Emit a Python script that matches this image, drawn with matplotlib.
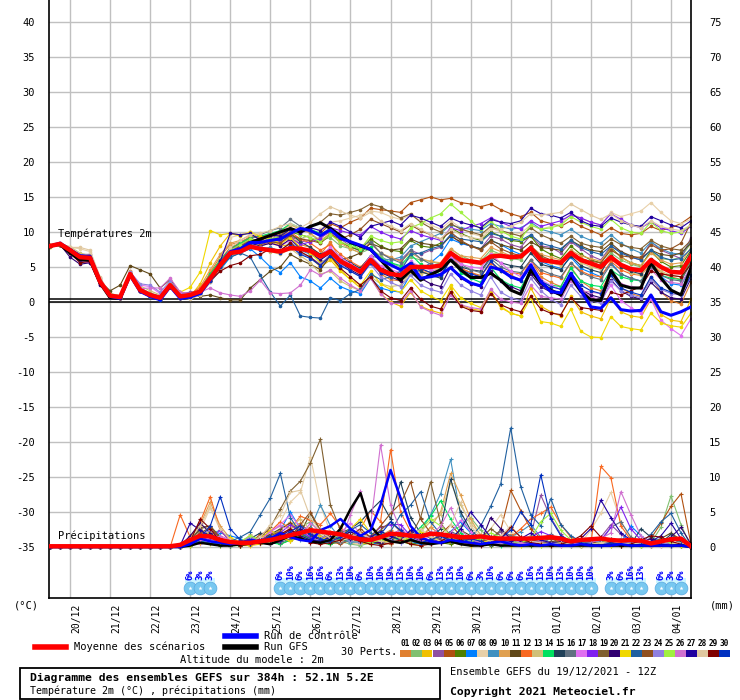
#GEFS ensemble diagram (meteociel style): temperature 2m and precipitation, 30 members
import matplotlib
matplotlib.use('Agg')
import matplotlib.pyplot as plt
import matplotlib.transforms as mtransforms
from matplotlib.patches import Rectangle
from matplotlib.lines import Line2D
import numpy as np

plt.rcParams['font.family'] = ['DejaVu Sans Mono', 'DejaVu Sans']

#6-hourly steps from 19/12/2021 12Z (step 0) to +384h (step 64)
dates = ['20/12', '21/12', '22/12', '23/12', '24/12', '25/12', '26/12', '27/12',
         '28/12', '29/12', '30/12', '31/12', '01/01', '02/01', '03/01', '04/01']

pert_colors = ['#e08030', '#80c070', '#f0c000', '#9050a0', '#b05010', '#508000',
               '#0080ff', '#e8d0a8', '#4090c0', '#e0a050', '#604818', '#f86820',
               '#d0c078', '#00e060', '#204058', '#607080', '#e070f0', '#8020f0',
               '#806030', '#300070', '#f0d800', '#2060a0', '#905020', '#9080e0',
               '#a0f040', '#d070d0', '#2000a0', '#e0c8a0', '#800000', '#0030c0']

#temperature 2m (C)
mean_temp = [8.0, 8.3, 7.4, 6.4, 6.3, 2.9, 0.9, 0.7, 4.0, 1.7, 1.0, 0.6, 2.4, 0.8, 1.0, 1.5,
             3.4, 5.3, 7.0, 7.2, 7.9, 7.6, 7.4, 7.2, 7.7, 7.6, 7.3, 6.5, 7.2, 5.8, 5.1, 4.3,
             6.0, 4.6, 4.0, 3.8, 5.0, 5.0, 5.0, 5.2, 7.0, 6.0, 5.8, 5.6, 6.5, 6.6, 6.4, 6.5,
             7.7, 6.0, 5.8, 5.6, 7.0, 6.0, 5.5, 5.0, 6.4, 5.3, 4.7, 4.5, 6.0, 5.0, 4.3, 4.2, 6.5]
ctrl_temp = [8.0, 8.4, 7.5, 6.6, 6.5, 3.0, 0.8, 0.5, 3.8, 1.5, 0.8, 0.3, 2.2, 0.5, 0.7, 1.2,
             3.2, 5.4, 7.2, 7.6, 8.5, 8.5, 8.8, 9.0, 9.8, 10.5, 10.2, 9.5, 10.3, 9.1, 8.6, 8.1,
             7.5, 6.0, 5.3, 4.6, 5.5, 3.4, 3.6, 3.9, 4.9, 3.6, 2.7, 2.3, 5.0, 4.6, 3.6, 3.1,
             5.3, 2.9, 1.5, 1.3, 4.1, 1.7, -0.7, -0.9, 0.6, -1.1, -1.3, -1.2, 1.0, -1.4, -1.9, -1.4, -0.7]
gfs_temp = [8.0, 8.2, 7.0, 6.0, 6.0, 2.7, 0.6, 0.5, 3.9, 1.6, 0.9, 0.5, 2.3, 0.7, 0.9, 1.4,
            3.3, 5.2, 7.0, 7.5, 8.5, 9.0, 9.5, 10.0, 10.5, 10.0, 10.8, 11.3, 10.5, 9.5, 8.5, 8.0,
            7.5, 6.0, 4.5, 3.1, 4.5, 3.1, 3.9, 4.6, 6.0, 4.6, 3.5, 3.5, 4.1, 3.1, 1.7, 1.1,
            4.6, 2.7, 1.7, 1.0, 3.6, 1.5, 0.3, 0.2, 4.5, 2.4, 2.0, 2.0, 5.6, 3.4, 1.7, 1.0, 4.9]
pert_temp = [
    [8.1, 8.2, 7.2, 6.5, 6.0, 2.6, 0.8, 0.5, 4.2, 1.5, 0.8, 0.3, 2.2, 0.5, 0.8, 1.8,
     4.2, 6.5, 8.2, 8.6, 9.0, 8.4, 8.8, 8.2, 9.5, 8.2, 7.8, 6.8, 8.6, 6.0, 5.2, 4.2,
     6.3, 4.0, 3.2, 3.0, 5.2, 4.2, 4.0, 3.6, 6.8, 4.8, 4.2, 3.8, 5.6, 4.4, 3.8, 3.2,
     6.0, 3.6, 2.8, 2.2, 5.0, 3.0, 2.0, 1.6, 4.2, 2.0, 1.2, 0.8, 3.6, 1.4, 0.2, -0.3, 2.8],
    [8.0, 8.3, 7.5, 6.7, 6.6, 3.2, 1.2, 0.9, 4.1, 2.0, 1.3, 0.8, 2.6, 1.0, 1.1, 1.4,
     3.0, 5.0, 7.2, 8.0, 8.6, 8.0, 8.4, 8.8, 9.4, 9.0, 9.6, 8.8, 9.2, 8.0, 7.6, 7.0,
     7.6, 6.6, 5.6, 5.0, 6.4, 6.0, 5.8, 5.4, 7.6, 6.6, 6.0, 5.8, 7.4, 6.8, 6.2, 6.0,
     7.8, 6.4, 5.8, 5.4, 7.2, 6.2, 5.6, 5.2, 7.0, 6.0, 5.4, 5.0, 7.4, 6.2, 6.0, 6.4, 8.4],
    [7.9, 8.2, 7.3, 6.2, 6.0, 2.8, 0.8, 0.6, 3.8, 1.6, 0.9, 0.4, 2.2, 0.6, 0.8, 2.6,
     5.6, 8.0, 9.8, 9.6, 10.0, 9.0, 8.6, 8.0, 8.2, 7.0, 6.4, 5.0, 6.0, 4.4, 3.2, 2.0,
     3.6, 1.2, 0.0, -0.6, 1.4, -0.6, -1.2, -1.6, 2.0, -0.4, -1.0, -1.2, 1.6, -0.8, -1.6, -2.0,
     2.0, -0.6, -1.4, -2.0, 0.8, -1.4, -2.0, -2.4, 0.6, -1.4, -2.0, -2.2, 0.4, -1.8, -2.6, -2.8, 0.4],
    [8.0, 8.4, 7.6, 6.8, 6.8, 3.4, 1.0, 0.8, 4.4, 2.0, 1.2, 0.8, 2.8, 1.2, 1.4, 1.6,
     3.2, 5.0, 7.4, 8.6, 9.2, 9.4, 9.6, 9.0, 9.4, 8.6, 8.8, 9.2, 10.0, 9.0, 8.0, 7.2,
     8.4, 7.0, 6.2, 6.0, 7.4, 6.8, 7.4, 7.8, 9.6, 8.4, 8.0, 7.6, 9.4, 9.0, 8.2, 7.8,
     9.6, 8.0, 7.8, 7.0, 8.6, 7.6, 6.6, 6.0, 8.0, 7.2, 6.4, 6.0, 8.6, 7.4, 6.8, 6.2, 9.2],
    [8.0, 8.2, 7.4, 6.3, 6.2, 3.0, 1.0, 0.8, 4.2, 1.8, 1.1, 0.7, 2.4, 0.8, 1.2, 1.6,
     3.6, 5.6, 7.6, 8.4, 9.0, 8.8, 9.4, 9.6, 10.4, 10.0, 10.2, 9.8, 11.2, 10.6, 11.4, 12.0,
     13.4, 13.2, 13.0, 12.8, 14.2, 14.6, 15.0, 14.6, 14.8, 14.2, 14.0, 13.6, 14.0, 13.2, 12.6, 12.2,
     12.8, 11.6, 11.2, 10.8, 11.6, 10.8, 10.2, 9.6, 10.6, 9.8, 9.6, 9.8, 10.8, 10.2, 10.6, 11.2, 12.2],
    [8.1, 8.3, 7.3, 6.4, 6.4, 3.0, 0.9, 0.6, 3.8, 1.6, 0.9, 0.5, 2.2, 0.7, 0.9, 1.3,
     3.0, 4.8, 6.8, 7.8, 8.8, 8.4, 8.8, 9.2, 10.0, 9.6, 9.2, 8.4, 9.8, 8.6, 7.8, 7.4,
     9.0, 8.0, 7.4, 7.2, 8.8, 8.0, 7.8, 8.4, 10.6, 9.8, 9.2, 8.8, 10.0, 9.4, 8.8, 8.6,
     9.4, 7.6, 6.8, 6.2, 8.0, 6.8, 6.0, 5.6, 7.8, 6.4, 5.6, 5.2, 7.2, 5.8, 5.0, 5.2, 7.4],
    [8.0, 8.2, 7.4, 6.4, 6.2, 2.8, 0.8, 0.6, 3.8, 1.6, 0.8, 0.4, 2.2, 0.6, 0.8, 1.2,
     2.8, 4.6, 6.4, 7.0, 7.6, 6.4, 5.0, 4.2, 5.6, 3.6, 3.0, 2.0, 3.4, 2.2, 1.6, 1.2,
     3.4, 2.0, 1.6, 1.4, 4.0, 4.6, 5.6, 6.8, 9.0, 8.4, 8.0, 7.6, 8.8, 8.2, 7.4, 6.8,
     7.8, 5.8, 5.2, 4.8, 6.4, 4.8, 4.2, 3.6, 5.6, 4.0, 3.4, 3.0, 5.2, 3.6, 2.6, 2.4, 5.0],
    [8.0, 8.4, 7.8, 7.6, 7.2, 3.4, 1.2, 0.8, 4.0, 1.8, 1.0, 0.6, 2.4, 0.8, 1.0, 1.6,
     3.8, 6.2, 9.2, 9.6, 10.0, 9.4, 9.0, 8.6, 9.0, 8.8, 9.6, 10.4, 11.4, 11.6, 12.0, 12.4,
     13.0, 12.8, 12.2, 11.8, 12.4, 11.6, 11.0, 10.4, 11.6, 10.6, 9.8, 9.4, 10.6, 10.0, 9.6, 9.8,
     11.0, 10.4, 10.8, 11.2, 12.6, 12.0, 11.4, 11.0, 12.8, 12.2, 12.6, 13.0, 14.2, 12.8, 11.6, 11.2, 11.8],
    [8.0, 8.3, 7.4, 6.5, 6.3, 2.9, 0.8, 0.6, 3.9, 1.7, 0.9, 0.5, 2.3, 0.7, 0.9, 1.4,
     3.2, 5.2, 7.0, 7.8, 8.4, 7.6, 7.8, 7.2, 8.6, 7.4, 6.8, 6.0, 7.4, 6.2, 5.2, 4.8,
     6.6, 6.2, 6.0, 6.4, 8.0, 8.6, 9.2, 9.8, 11.0, 10.6, 10.4, 10.2, 11.2, 10.8, 10.4, 10.6,
     11.4, 10.4, 10.0, 9.6, 10.4, 9.4, 8.8, 8.4, 9.6, 8.4, 7.6, 7.0, 8.6, 7.6, 7.0, 6.8, 8.6],
    [8.1, 8.2, 7.4, 6.6, 6.4, 3.2, 1.0, 0.7, 4.4, 1.9, 1.1, 0.7, 2.5, 0.9, 1.0, 2.2,
     4.6, 6.8, 8.4, 8.8, 9.6, 9.0, 9.6, 10.2, 11.0, 10.4, 9.8, 8.8, 9.8, 8.4, 7.6, 7.0,
     8.6, 7.0, 6.4, 5.8, 7.0, 6.2, 5.8, 5.6, 7.6, 6.6, 6.4, 6.2, 7.8, 7.2, 6.6, 6.4,
     8.0, 6.8, 6.4, 6.0, 7.4, 6.6, 6.2, 5.8, 7.6, 6.4, 5.6, 5.2, 7.0, 6.0, 5.4, 5.6, 7.8],
    [8.0, 8.2, 7.2, 6.2, 6.0, 3.0, 1.6, 2.4, 5.2, 4.6, 4.0, 2.0, 3.2, 1.4, 1.0, 0.8,
     1.0, 0.6, 0.3, 0.3, 2.0, 3.2, 4.4, 5.0, 6.8, 6.0, 5.4, 4.6, 6.6, 6.0, 6.4, 7.0,
     8.4, 7.8, 7.4, 7.6, 9.0, 8.4, 8.2, 8.0, 9.4, 8.6, 8.0, 7.6, 8.8, 8.2, 7.8, 7.4,
     8.6, 7.8, 7.6, 7.4, 8.8, 8.0, 7.4, 7.2, 8.4, 7.2, 6.6, 6.2, 7.4, 6.8, 6.6, 7.0, 8.4],
    [8.0, 8.3, 7.4, 6.4, 6.3, 3.0, 1.0, 0.8, 4.0, 1.7, 1.0, 0.6, 2.4, 0.8, 1.2, 2.0,
     4.0, 6.0, 7.8, 8.4, 9.4, 9.2, 9.8, 9.4, 10.0, 9.0, 8.4, 7.4, 8.2, 6.8, 5.8, 5.0,
     6.4, 4.8, 4.2, 3.8, 5.4, 4.6, 4.2, 3.8, 6.2, 4.8, 4.2, 3.6, 5.6, 4.6, 4.2, 4.0,
     6.0, 4.2, 3.8, 3.4, 5.6, 4.4, 3.8, 3.6, 5.8, 4.6, 4.0, 3.8, 5.4, 4.2, 3.6, 3.2, 5.6],
    [8.0, 8.3, 7.9, 7.0, 6.6, 3.2, 1.1, 0.9, 4.2, 2.3, 1.6, 1.0, 2.6, 1.0, 1.2, 1.5,
     3.2, 5.0, 6.6, 7.0, 7.8, 7.6, 7.2, 6.8, 7.6, 6.6, 5.6, 4.0, 4.4, 3.0, 2.2, 1.6,
     3.6, 2.6, 2.2, 2.4, 4.2, 4.0, 4.4, 4.8, 6.6, 5.8, 5.6, 5.4, 7.0, 6.8, 6.6, 6.8,
     7.6, 6.0, 5.6, 5.2, 7.0, 5.6, 5.0, 4.6, 6.6, 5.0, 4.2, 3.8, 5.6, 4.4, 3.8, 3.6, 6.4],
    [8.0, 8.3, 7.4, 6.4, 6.3, 2.9, 0.9, 0.7, 4.1, 1.8, 1.0, 0.6, 2.5, 0.9, 1.0, 1.7,
     4.0, 6.0, 7.6, 8.4, 9.2, 9.4, 9.8, 10.2, 11.2, 10.6, 10.4, 9.8, 10.2, 9.2, 8.4, 7.4,
     7.8, 6.2, 5.6, 5.2, 6.8, 5.4, 4.6, 4.0, 6.4, 4.2, 3.4, 2.8, 5.0, 3.2, 2.4, 2.0,
     4.6, 2.8, 2.4, 2.2, 4.8, 3.0, 2.4, 2.2, 4.6, 3.6, 3.2, 3.0, 5.0, 3.8, 3.4, 3.2, 6.0],
    [8.0, 8.2, 7.3, 6.3, 6.2, 2.8, 0.8, 0.6, 3.9, 1.6, 0.9, 0.5, 2.3, 0.6, 0.8, 1.3,
     3.2, 5.4, 7.4, 8.2, 9.0, 8.6, 9.0, 8.8, 9.8, 8.6, 7.8, 6.8, 7.6, 6.4, 5.6, 4.8,
     6.6, 5.0, 4.2, 3.8, 5.6, 4.4, 3.8, 3.4, 6.2, 5.0, 4.6, 4.4, 6.4, 5.6, 5.2, 5.0,
     7.0, 5.4, 5.0, 4.6, 6.6, 5.2, 4.6, 4.2, 6.6, 5.0, 4.4, 4.0, 6.2, 5.0, 4.4, 4.4, 7.2],
    [8.0, 8.3, 7.4, 6.4, 6.4, 3.0, 0.9, 0.7, 4.0, 1.7, 1.0, 0.6, 2.4, 0.8, 1.1, 1.6,
     3.6, 5.8, 7.6, 8.2, 9.0, 9.6, 10.2, 10.6, 11.8, 10.8, 10.0, 9.6, 10.6, 9.4, 8.6, 8.0,
     8.6, 7.0, 6.2, 5.6, 7.4, 6.2, 5.4, 4.8, 6.8, 5.4, 4.6, 4.2, 6.2, 5.0, 4.4, 4.2,
     6.0, 4.6, 4.0, 3.6, 5.6, 4.2, 3.6, 3.2, 5.4, 4.0, 3.4, 3.0, 5.0, 3.8, 3.2, 3.0, 5.6],
    [8.0, 8.4, 7.0, 5.8, 5.6, 2.6, 0.8, 0.6, 4.2, 2.4, 2.2, 1.2, 2.6, 0.8, 1.0, 1.5,
     3.4, 5.4, 7.2, 7.8, 8.6, 8.2, 8.4, 8.0, 8.8, 7.8, 7.4, 6.6, 7.8, 6.4, 5.4, 4.6,
     6.6, 5.2, 4.6, 4.2, 5.8, 5.0, 4.6, 4.4, 6.4, 5.4, 5.0, 4.8, 6.8, 5.6, 4.4, 3.6,
     5.4, 3.2, 2.4, 1.8, 3.6, 1.6, 0.8, 0.2, 2.4, 0.2, -0.8, -1.6, 0.4, -2.6, -3.8, -4.8, -2.4],
    [8.0, 8.3, 7.2, 6.0, 5.8, 2.6, 0.7, 0.5, 3.8, 1.5, 0.8, 0.4, 2.2, 0.6, 0.8, 1.4,
     3.4, 5.6, 7.4, 8.0, 8.8, 8.6, 9.0, 8.6, 9.2, 8.2, 8.6, 9.0, 10.6, 10.2, 9.8, 9.6,
     10.8, 10.0, 9.4, 9.0, 10.2, 9.6, 9.2, 8.8, 10.6, 10.2, 10.8, 11.2, 12.0, 11.4, 10.8, 10.4,
     11.6, 10.8, 11.2, 11.6, 12.4, 12.0, 11.4, 11.0, 12.6, 11.8, 11.0, 10.6, 11.4, 10.6, 10.2, 9.8, 10.8],
    [8.0, 8.3, 7.4, 6.6, 6.5, 3.1, 1.0, 0.8, 4.1, 1.8, 1.1, 0.7, 2.5, 0.9, 1.0, 1.4,
     3.0, 4.8, 6.6, 7.6, 8.6, 8.4, 9.0, 9.4, 10.4, 10.0, 10.8, 11.4, 12.6, 12.4, 12.8, 13.2,
     14.0, 13.6, 12.8, 12.0, 12.6, 11.4, 10.6, 10.0, 11.2, 10.4, 10.0, 9.6, 10.8, 10.2, 9.8, 9.4,
     10.6, 9.6, 9.0, 8.4, 9.4, 8.4, 8.0, 7.8, 9.0, 8.2, 7.8, 7.6, 8.8, 8.0, 7.6, 7.4, 8.8],
    [8.0, 8.2, 6.4, 5.4, 5.6, 2.4, 0.9, 0.6, 3.8, 1.6, 0.8, 0.4, 2.2, 0.6, 0.9, 1.5,
     3.2, 5.2, 7.0, 7.6, 8.4, 8.0, 8.4, 8.0, 9.0, 7.6, 7.0, 6.0, 7.0, 5.6, 4.6, 3.8,
     5.8, 4.2, 3.6, 3.0, 4.8, 3.4, 2.6, 2.2, 5.0, 3.4, 2.6, 2.2, 4.4, 3.0, 2.2, 1.6,
     4.0, 2.2, 1.4, 1.0, 3.6, 1.8, 1.0, 0.6, 3.2, 1.6, 0.8, 0.4, 2.8, 1.4, 0.6, 0.4, 3.4],
    [7.9, 8.2, 7.3, 6.3, 6.2, 2.8, 0.8, 0.6, 3.9, 1.6, 0.9, 0.5, 2.6, 1.4, 2.1, 4.3,
     10.2, 9.6, 9.8, 9.4, 10.0, 9.4, 9.0, 8.4, 9.2, 7.8, 7.0, 5.6, 6.4, 4.6, 3.2, 2.4,
     4.4, 2.6, 1.8, 1.4, 3.2, 1.6, 0.8, 0.2, 2.4, 0.6, -0.2, -0.8, 1.6, -0.6, -1.6, -2.0,
     0.6, -2.8, -3.0, -3.5, -1.0, -4.2, -5.0, -5.1, -2.1, -3.5, -3.8, -4.0, -1.6, -3.0, -3.4, -3.6, -1.6],
    [8.0, 8.3, 7.5, 6.5, 6.4, 2.9, 0.8, 0.5, 3.8, 1.5, 0.7, 0.3, 2.2, 0.5, 0.7, 1.3,
     3.2, 5.0, 6.4, 7.0, 6.4, 3.8, 1.4, -0.6, 1.0, -2.0, -2.2, -2.3, 0.6, 0.2, 1.2, 1.8,
     4.0, 3.2, 3.6, 4.4, 6.8, 7.0, 7.6, 8.0, 9.6, 9.0, 8.8, 8.6, 9.8, 9.4, 9.0, 8.8,
     9.6, 8.4, 8.0, 7.6, 8.8, 7.8, 7.2, 6.8, 8.0, 7.0, 6.4, 6.0, 7.4, 6.4, 6.0, 6.2, 7.6],
    [8.0, 8.3, 7.4, 6.4, 6.3, 3.0, 1.0, 0.8, 4.1, 1.8, 1.1, 0.6, 2.4, 0.8, 1.0, 1.6,
     3.4, 5.4, 7.2, 8.0, 8.8, 8.2, 8.6, 8.4, 9.6, 9.0, 8.8, 8.4, 9.6, 9.0, 9.6, 10.4,
     11.8, 11.2, 10.6, 10.0, 11.0, 10.2, 9.6, 9.0, 10.0, 8.8, 8.0, 7.4, 8.6, 7.6, 7.0, 6.6,
     8.0, 6.6, 6.0, 5.6, 7.2, 6.2, 5.8, 5.6, 7.4, 6.6, 6.4, 6.4, 8.2, 7.4, 7.6, 8.4, 11.4],
    [8.0, 8.3, 7.2, 6.2, 6.1, 2.8, 0.9, 0.7, 4.3, 2.6, 2.4, 1.4, 3.0, 1.2, 1.2, 1.5,
     3.4, 5.4, 7.0, 7.6, 8.2, 7.8, 7.6, 7.2, 8.0, 7.0, 6.4, 5.4, 6.8, 5.4, 4.4, 3.6,
     5.4, 3.6, 2.8, 2.2, 3.8, 2.4, 1.8, 1.4, 4.0, 2.4, 1.6, 1.0, 3.6, 1.4, 0.6, 0.2,
     3.4, 1.6, 0.4, -0.4, 2.4, 0.8, 0.2, -0.2, 3.0, 1.6, 1.0, 0.6, 3.2, 1.8, 1.2, 1.0, 3.6],
    [8.0, 8.3, 7.4, 6.4, 6.3, 2.9, 0.9, 0.7, 4.0, 1.7, 1.0, 0.6, 2.4, 0.8, 1.0, 1.5,
     3.4, 5.6, 7.4, 8.2, 9.0, 8.6, 9.0, 9.4, 10.4, 9.6, 9.2, 8.6, 9.6, 8.6, 8.0, 7.6,
     9.4, 8.8, 8.4, 8.6, 10.6, 11.2, 12.0, 12.6, 14.0, 12.8, 11.6, 10.4, 11.6, 10.2, 9.4, 9.0,
     11.0, 10.4, 10.6, 11.0, 12.2, 11.4, 10.8, 10.4, 11.8, 10.6, 10.0, 9.8, 11.4, 10.2, 9.8, 10.0, 11.0],
    [8.0, 8.3, 7.4, 6.4, 6.3, 2.9, 0.9, 0.7, 4.0, 1.9, 2.0, 2.0, 3.4, 1.4, 1.2, 1.4,
     2.0, 1.3, 1.0, 0.8, 1.6, 3.1, 1.3, 1.2, 1.3, 2.4, 4.6, 3.8, 4.6, 3.4, 2.4, 1.6,
     3.4, 1.2, -0.2, -0.2, 1.6, -0.7, -1.4, -1.9, 1.0, -0.4, -0.8, -1.0, 1.8, 0.4, 0.0, -0.2,
     2.4, 0.8, 0.6, 0.4, 3.0, 1.6, 1.4, 1.2, 4.0, 2.6, 2.2, 2.0, 4.6, 3.2, 2.8, 2.6, 5.0],
    [8.0, 8.3, 7.4, 6.5, 6.4, 2.9, 0.8, 0.6, 3.9, 1.6, 0.9, 0.5, 2.3, 0.7, 0.9, 1.5,
     3.4, 5.8, 9.8, 9.6, 9.8, 8.8, 9.6, 9.4, 10.4, 9.8, 10.6, 10.2, 11.4, 10.8, 10.0, 9.2,
     10.8, 11.2, 11.6, 11.0, 12.4, 12.0, 11.4, 10.8, 12.0, 11.4, 11.0, 10.6, 11.8, 11.4, 11.2, 11.6,
     13.4, 12.6, 12.4, 12.0, 12.8, 11.6, 11.0, 10.8, 12.0, 11.4, 11.0, 10.8, 12.2, 11.6, 11.0, 10.6, 11.6],
    [8.0, 8.4, 7.8, 7.8, 7.4, 3.6, 1.0, 0.6, 3.8, 1.6, 0.8, 0.4, 2.2, 0.6, 0.4, 1.0,
     2.8, 4.8, 7.8, 8.8, 9.6, 9.8, 10.2, 10.8, 11.2, 10.6, 11.4, 12.6, 13.6, 13.0, 12.4, 12.0,
     12.8, 11.6, 10.8, 10.2, 11.2, 10.4, 9.6, 9.0, 10.4, 9.6, 9.2, 9.0, 10.4, 10.4, 10.8, 11.4,
     12.6, 12.4, 12.6, 12.8, 14.0, 13.2, 12.4, 11.8, 12.6, 11.6, 11.0, 10.6, 11.6, 10.8, 10.4, 10.2, 11.0],
    [8.0, 8.3, 7.0, 5.6, 5.8, 2.7, 0.8, 0.6, 3.9, 1.6, 0.9, 0.4, 2.2, 0.5, 0.8, 1.4,
     3.0, 4.4, 5.2, 5.6, 6.6, 6.8, 7.6, 7.4, 8.4, 7.2, 6.4, 5.2, 6.6, 4.8, 3.6, 2.4,
     3.6, 1.6, 0.6, 0.2, 2.0, 0.4, -0.6, -1.0, 1.4, -0.6, -1.2, -1.4, 1.2, -0.4, -1.0, -1.4,
     0.8, -1.0, -1.6, -1.8, 0.6, -0.8, -1.0, -1.2, 1.4, 1.0, 1.6, 2.2, 4.4, 4.0, 3.8, 3.6, 5.4],
    [8.0, 8.3, 7.4, 6.4, 6.3, 2.9, 0.9, 0.7, 4.0, 1.7, 0.8, 0.3, 2.2, 0.5, 0.7, 1.3,
     3.0, 5.0, 6.8, 7.6, 8.2, 7.4, 7.4, 7.0, 8.0, 6.8, 6.2, 5.2, 6.6, 5.2, 4.4, 3.6,
     5.6, 4.2, 3.8, 3.6, 5.6, 4.8, 4.2, 3.8, 6.0, 4.6, 4.0, 3.6, 5.8, 4.4, 3.6, 3.0,
     5.0, 3.0, 2.2, 1.8, 4.2, 2.4, 1.6, 1.2, 3.8, 2.0, 1.4, 1.0, 3.6, 2.0, 1.4, 1.2, 3.8],
]

#precipitation (mm per 6h)
mean_prec = [0.1, 0.1, 0.1, 0.1, 0.1, 0.1, 0.1, 0.1, 0.1, 0.1, 0.1, 0.1, 0.1, 0.3, 1.0, 1.6,
             1.5, 1.0, 0.7, 0.6, 0.6, 0.8, 1.0, 1.3, 1.7, 2.0, 2.4, 2.2, 2.0, 1.8, 1.4, 1.1,
             1.0, 1.4, 1.9, 1.8, 1.6, 1.5, 1.9, 1.8, 1.6, 1.4, 1.4, 1.5, 1.3, 1.2, 1.2, 1.2,
             1.2, 1.3, 1.4, 1.2, 0.8, 1.0, 1.1, 1.2, 1.0, 0.9, 1.0, 0.9, 0.5, 0.8, 1.1, 1.2, 0.1]
ctrl_prec = [0, 0, 0, 0, 0, 0, 0, 0, 0, 0, 0, 0, 0, 0, 0.4, 1.2,
             0.8, 0.6, 0.4, 0.6, 1.0, 0.8, 1.2, 2.0, 1.4, 1.0, 0.8, 2.4, 3.0, 4.0, 2.6, 1.6,
             2.4, 6.0, 11.0, 7.0, 3.0, 1.4, 0.8, 0.6, 1.0, 0.8, 0.6, 0.4, 0.6, 0.8, 0.4, 0.2,
             0.4, 0.2, 0.4, 0.2, 0.2, 0.4, 0.2, 0.2, 0.2, 0.4, 0.2, 0.2, 0.2, 0.2, 0.2, 0.2, 0]
gfs_prec = [0, 0, 0, 0, 0, 0, 0, 0, 0, 0, 0, 0, 0, 0, 0.2, 0.6,
            0.4, 0.2, 0.2, 0.4, 0.8, 0.6, 0.4, 1.0, 1.6, 1.2, 0.8, 0.6, 1.0, 2.6, 5.4, 7.7,
            3.0, 1.4, 0.8, 0.6, 1.0, 0.6, 0.4, 0.6, 0.8, 0.4, 0.2, 0.2, 0.4, 0.2, 0.2, 0.2,
            0.2, 0.2, 0.2, 0.2, 0.2, 0.2, 0.2, 0.2, 0.2, 0.2, 0.2, 0.2, 0.2, 0.2, 0.2, 0.2, 0]
pert_prec = [
    [0, 0, 0, 0, 0, 0, 0, 0, 0, 0, 0, 0, 0, 0.2, 1.0, 2.2,
     1.4, 0.6, 0.2, 0.4, 0.8, 1.2, 0.6, 1.8, 2.6, 3.4, 2.0, 1.0, 2.2, 1.2, 0.6, 0.4,
     0.8, 1.6, 2.4, 1.2, 0.6, 1.4, 2.8, 1.8, 1.0, 0.6, 1.2, 0.8, 0.4, 0.6, 1.8, 1.0,
     0.4, 0.6, 1.2, 0.8, 0.4, 0.2, 0.6, 1.0, 0.6, 0.4, 0.2, 0.4, 0.2, 0.6, 1.2, 0.8, 0],
    [0, 0, 0, 0, 0, 0, 0, 0, 0, 0, 0, 0, 0, 0, 0.4, 1.2,
     0.8, 0.4, 0.2, 0.2, 0.4, 0.6, 1.4, 2.2, 1.6, 2.8, 3.6, 2.0, 1.2, 0.8, 0.4, 0.2,
     0.6, 0.8, 1.4, 2.6, 1.2, 0.6, 1.0, 1.6, 2.2, 3.0, 4.2, 2.4, 1.2, 0.8, 0.4, 0.6,
     1.0, 0.8, 0.4, 0.2, 0.2, 0.4, 0.6, 0.8, 0.4, 0.2, 0.2, 0.4, 0.6, 2.8, 7.3, 3.2, 0],
    [0, 0, 0, 0, 0, 0, 0, 0, 0, 0, 0, 0, 0, 0, 0.6, 1.4,
     2.2, 1.0, 0.4, 0.2, 0.2, 0.4, 0.8, 1.6, 2.4, 1.8, 1.2, 0.8, 1.4, 2.0, 1.2, 0.6,
     0.4, 0.8, 1.6, 1.0, 0.4, 0.2, 0.8, 1.2, 0.6, 0.4, 0.2, 0.6, 0.8, 0.4, 0.2, 0.2,
     0.4, 0.6, 0.2, 0.2, 0.4, 0.2, 0.2, 0.4, 0.6, 0.2, 0.2, 0.2, 0.4, 0.2, 0.2, 0.4, 0],
    [0, 0, 0, 0, 0, 0, 0, 0, 0, 0, 0, 0, 0, 0, 0.8, 2.0,
     1.2, 0.6, 0.4, 0.8, 1.4, 0.6, 0.4, 1.2, 2.2, 3.2, 2.2, 1.0, 0.8, 1.4, 2.6, 1.6,
     0.8, 0.6, 1.8, 2.4, 1.2, 0.8, 0.6, 1.4, 2.2, 1.2, 0.6, 0.4, 1.0, 2.2, 1.2, 0.8,
     1.6, 7.4, 4.2, 1.8, 0.6, 0.4, 0.8, 1.4, 3.2, 1.8, 0.8, 0.4, 0.2, 0.6, 1.2, 0.6, 0],
    [0, 0, 0, 0, 0, 0, 0, 0, 0, 0, 0, 0, 0, 0, 0.4, 1.6,
     2.6, 1.2, 0.4, 0.2, 0.6, 1.8, 2.4, 1.4, 0.8, 1.6, 2.8, 1.6, 0.8, 0.4, 1.0, 2.2,
     1.4, 0.6, 0.4, 1.2, 2.0, 1.0, 0.6, 1.8, 3.2, 1.6, 0.8, 0.4, 1.2, 2.4, 8.1, 5.2,
     2.6, 1.2, 0.6, 0.4, 0.8, 0.6, 0.4, 0.2, 0.4, 0.6, 0.4, 0.6, 1.2, 3.4, 5.8, 7.6, 0.4],
    [0, 0, 0, 0, 0, 0, 0, 0, 0, 0, 0, 0, 0, 0, 0.2, 0.8,
     0.6, 0.2, 0.2, 0.4, 0.6, 1.2, 0.8, 0.4, 1.0, 1.8, 1.2, 0.6, 0.4, 0.8, 1.4, 0.8,
     0.4, 0.6, 1.2, 0.8, 0.4, 0.6, 1.0, 0.6, 0.4, 0.8, 1.2, 0.6, 0.2, 0.4, 0.8, 0.4,
     0.2, 0.4, 0.6, 0.4, 0.2, 0.2, 0.4, 0.6, 0.2, 0.2, 0.4, 0.2, 0.2, 0.4, 0.6, 0.2, 0],
    [0, 0, 0, 0, 0, 0, 0, 0, 0, 0, 0, 0, 0, 0, 0.4, 1.0,
     0.6, 2.0, 1.6, 1.2, 0.4, 0.6, 1.6, 2.4, 5.0, 2.6, 1.4, 0.8, 0.6, 1.2, 2.2, 1.4,
     0.6, 0.4, 1.2, 2.0, 0.8, 0.4, 0.6, 1.0, 2.2, 3.6, 2.0, 1.0, 0.6, 0.4, 0.8, 1.2,
     0.6, 0.4, 0.2, 0.6, 1.0, 0.4, 0.2, 0.4, 0.8, 0.6, 3.0, 1.6, 0.4, 0.2, 0.4, 0.2, 0],
    [0, 0, 0, 0, 0, 0, 0, 0, 0, 0, 0, 0, 0, 0, 1.0, 2.4,
     5.6, 2.4, 1.0, 0.6, 0.4, 1.2, 2.2, 3.6, 6.4, 7.8, 12.9, 6.0, 2.0, 1.0, 0.6, 0.4,
     1.2, 0.8, 0.6, 1.4, 2.4, 1.2, 0.6, 0.8, 2.0, 1.2, 0.6, 0.8, 2.6, 4.6, 2.2, 1.0,
     0.6, 0.4, 0.8, 0.6, 0.4, 0.6, 2.4, 4.8, 7.8, 3.6, 1.2, 0.6, 0.4, 0.2, 0.4, 0.6, 0],
    [0, 0, 0, 0, 0, 0, 0, 0, 0, 0, 0, 0, 0, 0, 0.6, 1.2,
     1.8, 2.4, 1.0, 0.4, 0.6, 0.8, 1.2, 2.0, 1.4, 1.0, 2.6, 6.0, 3.0, 1.2, 0.6, 0.8,
     1.6, 1.2, 0.8, 0.6, 1.4, 2.2, 4.6, 7.6, 12.5, 4.4, 2.0, 1.0, 0.6, 0.8, 1.4, 2.2,
     3.2, 1.4, 0.6, 0.4, 0.6, 1.0, 0.6, 0.4, 0.8, 1.2, 0.6, 0.4, 0.8, 1.2, 0.6, 0.4, 0],
    [0, 0, 0, 0, 0, 0, 0, 0, 0, 0, 0, 0, 0, 0, 1.4, 3.2,
     6.4, 3.0, 1.2, 0.6, 0.4, 0.8, 1.6, 2.4, 3.6, 2.2, 1.4, 1.0, 1.8, 2.4, 1.2, 0.8,
     0.6, 1.0, 2.2, 1.4, 0.8, 1.2, 2.8, 5.0, 10.5, 7.4, 4.0, 1.6, 0.8, 0.6, 0.4, 0.6,
     1.0, 0.6, 0.4, 0.6, 0.4, 0.2, 0.4, 0.6, 1.2, 0.8, 0.4, 0.2, 0.4, 0.6, 0.4, 0.2, 0],
    [0, 0, 0, 0, 0, 0, 0, 0, 0, 0, 0, 0, 0, 0, 0.8, 2.8,
     3.0, 1.4, 0.6, 0.2, 0.4, 1.0, 1.8, 2.6, 3.4, 2.0, 4.8, 2.2, 1.0, 0.8, 1.2, 1.6,
     0.8, 0.4, 1.0, 1.6, 2.2, 1.4, 0.8, 0.6, 1.2, 2.4, 1.6, 0.8, 0.4, 0.6, 1.2, 0.8,
     0.4, 0.6, 0.8, 0.6, 0.4, 0.2, 0.4, 0.6, 0.4, 0.2, 0.4, 0.6, 0.4, 1.2, 2.0, 1.0, 0],
    [0, 0, 0, 0, 0, 0, 0, 0, 0, 0, 0, 0, 0, 4.6, 1.4, 3.6,
     7.2, 2.4, 0.8, 0.4, 0.6, 1.2, 2.2, 3.6, 2.6, 4.4, 3.8, 3.2, 4.8, 2.8, 1.6, 2.6,
     5.2, 3.6, 13.9, 5.0, 2.2, 1.2, 0.8, 0.6, 1.0, 1.6, 0.8, 0.6, 0.4, 0.8, 1.4, 2.6,
     4.0, 4.8, 5.7, 3.2, 1.4, 0.6, 0.4, 11.5, 9.9, 3.0, 1.0, 0.6, 0.4, 0.8, 1.2, 0.6, 0],
    [0, 0, 0, 0, 0, 0, 0, 0, 0, 0, 0, 0, 0, 0, 0.6, 1.8,
     2.4, 1.2, 0.6, 0.4, 1.8, 0.8, 0.6, 1.4, 2.8, 4.0, 2.4, 1.6, 2.2, 1.4, 0.8, 0.6,
     1.4, 2.0, 1.2, 0.8, 1.0, 2.2, 3.6, 4.6, 9.2, 6.0, 3.4, 1.8, 1.0, 0.6, 0.4, 0.8,
     1.6, 1.0, 0.6, 0.4, 0.6, 0.8, 0.4, 0.2, 0.6, 1.0, 0.8, 0.4, 0.2, 0.4, 0.6, 0.4, 0],
    [0, 0, 0, 0, 0, 0, 0, 0, 0, 0, 0, 0, 0, 0, 0.2, 0.8,
     0.6, 0.4, 0.2, 0.2, 0.8, 1.2, 0.6, 0.4, 1.0, 1.6, 1.0, 0.6, 0.4, 1.2, 0.8, 0.6,
     1.4, 2.2, 1.6, 0.8, 1.4, 2.8, 4.4, 6.6, 4.0, 2.0, 1.0, 0.6, 0.4, 0.2, 0.6, 0.8,
     0.4, 0.2, 0.4, 0.6, 0.4, 0.2, 0.2, 0.4, 0.6, 0.4, 0.2, 0.2, 0.4, 0.6, 0.2, 0.2, 0],
    [0, 0, 0, 0, 0, 0, 0, 0, 0, 0, 0, 0, 0, 0, 1.2, 2.4,
     1.6, 0.8, 0.4, 0.6, 1.2, 2.0, 1.4, 0.8, 1.6, 2.4, 1.6, 1.0, 1.4, 2.0, 2.6, 3.6,
     5.2, 6.6, 4.0, 9.3, 4.2, 2.0, 1.2, 2.6, 9.7, 5.0, 2.4, 1.2, 0.8, 0.6, 1.0, 1.4,
     0.8, 0.6, 0.4, 0.6, 1.0, 0.6, 0.4, 0.6, 1.2, 0.8, 0.4, 2.6, 1.4, 0.6, 1.8, 0.8, 0],
    [0, 0, 0, 0, 0, 0, 0, 0, 0, 0, 0, 0, 0, 0, 0.4, 1.0,
     0.8, 0.4, 0.2, 0.4, 0.6, 1.2, 0.8, 0.6, 1.2, 1.8, 2.4, 1.4, 0.8, 0.6, 1.0, 1.6,
     1.2, 0.8, 0.6, 1.0, 1.8, 1.2, 0.8, 1.4, 2.2, 1.6, 0.8, 0.6, 1.0, 2.4, 1.6, 0.8,
     0.6, 1.2, 1.8, 1.0, 0.4, 0.6, 1.2, 0.8, 2.8, 3.6, 1.4, 0.6, 0.4, 0.8, 1.2, 0.6, 0],
    [0, 0, 0, 0, 0, 0, 0, 0, 0, 0, 0, 0, 0, 0, 0.8, 0.4,
     1.0, 1.4, 0.8, 0.4, 0.6, 1.0, 2.2, 3.2, 4.6, 2.8, 1.4, 0.8, 1.2, 2.0, 3.4, 2.0,
     1.2, 0.8, 1.4, 2.6, 1.6, 0.8, 0.6, 1.0, 2.0, 3.8, 2.2, 1.0, 0.6, 0.4, 0.8, 0.6,
     0.4, 0.6, 0.4, 0.2, 0.4, 0.6, 0.4, 0.2, 0.4, 0.6, 0.2, 0.2, 0.4, 0.2, 0.2, 0.4, 0],
    [0, 0, 0, 0, 0, 0, 0, 0, 0, 0, 0, 0, 0, 0, 0.6, 1.4,
     1.0, 2.4, 0.8, 0.4, 0.6, 0.8, 1.2, 2.0, 3.2, 2.2, 1.4, 0.8, 1.2, 1.8, 1.2, 0.8,
     1.6, 2.8, 3.2, 3.2, 1.6, 0.8, 0.6, 1.2, 1.8, 1.0, 0.6, 0.8, 1.4, 0.8, 0.6, 1.0,
     1.4, 2.2, 1.6, 0.8, 0.6, 0.4, 0.6, 1.0, 2.8, 5.7, 2.6, 1.0, 0.6, 0.4, 0.6, 0.4, 0],
    [0, 0, 0, 0, 0, 0, 0, 0, 0, 0, 0, 0, 0, 0, 1.0, 2.6,
     3.0, 1.2, 0.6, 0.4, 0.8, 1.4, 2.8, 5.4, 8.0, 9.4, 12.0, 15.4, 6.0, 2.4, 1.2, 0.8,
     1.4, 2.4, 3.6, 2.2, 1.4, 4.2, 9.3, 3.4, 1.6, 0.8, 0.6, 1.2, 2.6, 1.6, 0.8, 0.6,
     1.0, 0.8, 0.4, 0.6, 0.8, 0.4, 0.2, 0.4, 0.8, 0.6, 0.4, 0.2, 0.4, 0.6, 0.4, 0.2, 0],
    [0, 0, 0, 0, 0, 0, 0, 0, 0, 0, 0, 0, 0, 0.2, 1.6, 3.4,
     2.0, 0.8, 0.4, 0.6, 1.0, 0.6, 0.4, 0.8, 1.6, 2.6, 1.8, 1.0, 0.8, 1.4, 2.2, 1.4,
     0.8, 0.6, 1.2, 2.0, 1.4, 0.8, 0.6, 1.0, 1.8, 1.2, 0.8, 0.6, 4.2, 2.6, 1.2, 0.8,
     0.6, 0.4, 0.6, 0.8, 0.6, 1.2, 0.6, 0.4, 0.8, 0.6, 0.4, 0.8, 1.2, 0.6, 1.4, 2.8, 0.4],
    [0, 0, 0, 0, 0, 0, 0, 0, 0, 0, 0, 0, 0, 0, 0.2, 0.6,
     0.4, 0.8, 1.4, 0.6, 0.4, 1.2, 2.4, 1.4, 0.8, 1.6, 2.4, 1.4, 0.8, 1.6, 2.6, 4.0,
     2.0, 1.0, 0.6, 0.8, 1.4, 2.2, 1.6, 0.8, 1.2, 0.8, 0.4, 0.6, 1.0, 0.6, 0.4, 0.2,
     0.4, 0.2, 0.2, 0.4, 0.2, 0.2, 0.4, 0.2, 0.2, 0.4, 0.2, 0.2, 0.2, 0.4, 0.2, 0.2, 0],
    [0, 0, 0, 0, 0, 0, 0, 0, 0, 0, 0, 0, 0, 0, 0.4, 0.8,
     0.6, 0.4, 0.8, 1.4, 2.2, 4.6, 7.0, 10.5, 4.2, 2.0, 1.2, 0.8, 1.0, 1.6, 2.4, 3.2,
     2.0, 1.4, 2.2, 4.6, 6.0, 7.9, 3.6, 1.8, 1.0, 0.8, 1.4, 3.0, 5.8, 9.0, 17.0, 8.6,
     4.6, 3.0, 6.9, 3.2, 1.6, 0.8, 0.6, 0.4, 0.6, 0.8, 0.4, 0.6, 1.8, 3.6, 4.8, 2.0, 0],
    [0, 0, 0, 0, 0, 0, 0, 0, 0, 0, 0, 0, 0, 0, 0.6, 2.0,
     2.8, 1.2, 0.6, 0.4, 0.6, 1.0, 1.6, 2.2, 1.4, 3.2, 5.0, 2.4, 1.4, 0.8, 1.6, 2.6,
     1.4, 3.0, 4.8, 6.2, 9.3, 4.0, 2.0, 1.2, 0.8, 0.6, 0.4, 0.8, 1.2, 0.6, 0.4, 0.6,
     1.0, 0.8, 1.2, 0.6, 0.4, 0.6, 0.8, 0.4, 0.6, 0.4, 0.2, 0.4, 0.6, 0.4, 0.2, 0.4, 0],
    [0, 0, 0, 0, 0, 0, 0, 0, 0, 0, 0, 0, 0, 0, 0.8, 1.6,
     2.4, 1.0, 0.6, 0.8, 1.4, 0.8, 0.6, 1.0, 1.8, 1.2, 0.8, 1.2, 2.0, 1.4, 0.8, 0.6,
     1.0, 1.6, 1.0, 0.6, 0.8, 1.4, 2.2, 1.4, 0.8, 0.6, 1.0, 0.6, 0.4, 0.6, 0.8, 0.4,
     0.6, 1.0, 0.6, 0.4, 0.2, 0.6, 1.0, 0.6, 0.4, 0.8, 0.6, 0.4, 0.2, 0.4, 0.6, 0.4, 0],
    [0, 0, 0, 0, 0, 0, 0, 0, 0, 0, 0, 0, 0, 0, 0.4, 1.2,
     0.8, 0.6, 0.4, 0.8, 1.6, 1.0, 0.6, 1.2, 2.0, 1.4, 0.8, 0.6, 1.2, 1.8, 1.2, 0.8,
     0.6, 1.0, 1.6, 1.2, 0.8, 2.4, 4.0, 3.0, 1.6, 1.0, 0.8, 1.2, 2.0, 1.4, 0.8, 0.6,
     1.2, 3.6, 4.8, 2.4, 1.0, 0.6, 0.4, 0.6, 1.0, 0.6, 0.4, 0.2, 0.6, 1.0, 0.6, 0.4, 0],
    [0, 0, 0, 0, 0, 0, 0, 0, 0, 0, 0, 0, 0, 0, 0.6, 1.0,
     0.8, 1.6, 1.0, 0.4, 0.6, 1.0, 2.2, 3.0, 2.4, 1.6, 3.4, 2.2, 1.2, 0.8, 4.6, 8.0,
     3.0, 14.6, 6.0, 2.4, 1.2, 0.8, 1.6, 3.0, 5.6, 2.4, 1.2, 0.6, 0.4, 0.8, 1.2, 0.6,
     0.4, 0.8, 1.6, 1.0, 0.6, 0.4, 0.6, 1.2, 2.0, 7.9, 4.6, 1.6, 0.6, 0.4, 0.2, 0.4, 0],
    [0, 0, 0, 0, 0, 0, 0, 0, 0, 0, 0, 0, 0, 0.2, 3.4, 2.4,
     1.4, 0.8, 0.6, 0.4, 0.8, 1.2, 0.8, 1.6, 2.4, 1.6, 1.0, 0.8, 1.4, 2.0, 1.2, 0.8,
     1.4, 2.2, 1.6, 1.0, 2.4, 1.2, 0.8, 0.6, 1.0, 2.6, 5.0, 3.2, 1.4, 1.0, 0.8, 1.2,
     2.0, 1.0, 0.6, 0.4, 0.6, 1.2, 2.6, 6.7, 4.2, 2.0, 1.0, 0.6, 0.8, 1.6, 3.4, 1.2, 0],
    [0, 0, 0, 0, 0, 0, 0, 0, 0, 0, 0, 0, 0, 0, 1.2, 3.0,
     5.8, 2.6, 1.0, 0.4, 0.6, 1.4, 3.2, 4.6, 7.8, 8.1, 4.2, 2.2, 1.2, 0.8, 1.4, 2.0,
     1.2, 0.8, 0.6, 1.0, 1.6, 2.6, 1.4, 0.8, 3.2, 6.4, 3.0, 1.4, 0.8, 1.6, 3.0, 1.4,
     0.8, 0.6, 0.4, 0.6, 0.4, 0.2, 0.4, 0.6, 0.8, 0.6, 0.4, 0.6, 0.4, 0.2, 0.4, 0.6, 0],
    [0, 0, 0, 0, 0, 0, 0, 0, 0, 0, 0, 0, 0, 0, 0.8, 4.0,
     2.6, 0.8, 0.4, 0.2, 0.4, 0.6, 1.0, 1.8, 2.6, 1.4, 0.6, 0.4, 0.6, 1.0, 1.6, 0.8,
     0.4, 0.2, 0.6, 1.0, 0.4, 0.2, 0.4, 0.8, 1.6, 1.0, 0.4, 0.2, 0.6, 1.2, 2.8, 1.4,
     0.6, 0.4, 0.2, 0.4, 0.8, 1.6, 3.0, 1.4, 0.6, 0.2, 0.4, 1.0, 1.6, 1.4, 0.8, 0.4, 0],
    [0, 0, 0, 0, 0, 0, 0, 0, 0, 0, 0, 0, 0, 0, 0.6, 1.4,
     3.0, 7.2, 2.6, 1.0, 0.4, 0.8, 1.6, 1.0, 2.2, 3.0, 1.8, 1.2, 0.8, 1.4, 2.6, 1.6,
     1.0, 1.8, 3.6, 2.4, 1.2, 0.6, 1.0, 1.6, 0.8, 0.6, 1.2, 0.8, 0.4, 1.2, 2.4, 5.0,
     3.2, 10.3, 4.0, 1.6, 0.8, 0.6, 0.4, 0.2, 0.6, 0.4, 0.2, 0.4, 0.6, 0.4, 0.2, 0.4, 0],
]

#snow probability labels under the chart
snow_steps = [14, 15, 16] + list(range(23, 55)) + [56, 57, 58, 59] + [61, 62, 63]
snow_pct = [6, 3, 3,
            6, 10, 6, 16, 16, 6, 13, 10, 6, 10, 10, 19, 13, 10, 10, 6,
            13, 13, 10, 6, 3, 10, 6, 6, 6, 16, 13, 10, 13, 10, 10, 10,
            3, 6, 16, 13,
            6, 3, 6]
snow_groups = [(14, 16), (23, 54), (56, 59), (61, 63)]

W, H = 740, 700
PREC_BASE = -35  #precip zero sits on the -35 line
fig = plt.figure(figsize=(W / 100, H / 100), dpi=100)
ax = fig.add_axes([49 / W, 1 - 598 / H, 642 / W, 598 / H])
ax.set_xlim(-0.1, 64.0)
ax.set_ylim(-42.29, 43.14)

day_steps = 2 + 4 * np.arange(len(dates))
ax.set_xticks(day_steps)
ax.set_xticklabels([])
ax.set_yticks(np.arange(-35, 41, 5))
ax.set_yticklabels([str(v) for v in range(-35, 41, 5)], fontsize=7.5)
ax.tick_params(axis='both', length=0)
ax.tick_params(axis='y', pad=10)
ax.grid(True, color='#c0c0c0', lw=1)
ax.set_axisbelow(True)
for s in ['left', 'right', 'bottom']:
    ax.spines[s].set_linewidth(1.2)
ax.spines['top'].set_visible(False)

sec = ax.secondary_yaxis('right', functions=(lambda t: t + 35, lambda p: p - 35))
sec.set_yticks(np.arange(0, 76, 5))
sec.set_yticklabels([str(v) for v in range(0, 76, 5)], fontsize=7.5)
sec.tick_params(length=0, pad=13)
sec.spines['right'].set_visible(False)

#0 C double line
ax.axhline(0, color='k', lw=1.1, zorder=1.5)
ax.axhline(0.45, color='k', lw=1.1, zorder=1.5)

#members
for c, t in zip(pert_colors, pert_temp):
    ax.plot(np.arange(len(t)), t, color=c, lw=0.8, marker='o', ms=1.6, zorder=2)
for c, p in zip(pert_colors, pert_prec):
    ax.plot(np.arange(len(p)), np.array(p) + PREC_BASE, color=c, lw=0.8,
            marker='+', ms=3, mew=0.8, zorder=2)

ax.plot(np.arange(len(gfs_temp)), gfs_temp, color='black', lw=2.2, zorder=3)
ax.plot(np.arange(len(gfs_prec)), np.array(gfs_prec) + PREC_BASE, color='black', lw=1.8, zorder=3)
ax.plot(np.arange(len(ctrl_temp)), ctrl_temp, color='#0000ff', lw=2.2, zorder=3)
ax.plot(np.arange(len(ctrl_prec)), np.array(ctrl_prec) + PREC_BASE, color='#0000ff', lw=1.8, zorder=3)
ax.plot(np.arange(len(mean_temp)), mean_temp, color='#ff0000', lw=3.2, zorder=4)
ax.plot(np.arange(len(mean_prec)), np.array(mean_prec) + PREC_BASE, color='#ff0000', lw=3.2, zorder=4)

ax.text(0.8, 9.7, 'Températures 2m', fontsize=7.5, va='center', ha='left', zorder=5)
ax.text(0.8, -33.4, 'Précipitations', fontsize=7.5, va='center', ha='left', zorder=5)

#snow row
for a, b in snow_groups:
    ax.add_patch(Rectangle((a - 0.5, -40.2), b - a + 1.0, 0.7, color='#ccf6ff', lw=0, zorder=5))
ax.scatter(snow_steps, [-40.9] * len(snow_steps), s=85, color='#78c8f0',
           edgecolors='#58a8e0', linewidths=0.5, zorder=6)
ax.scatter(snow_steps, [-40.9] * len(snow_steps), s=10, marker='*', color='white',
           linewidths=0, zorder=7)
for st, pc in zip(snow_steps, snow_pct):
    ax.text(st, -39.7, '%d%%' % pc, rotation=90, ha='center', va='bottom',
            fontsize=6.3, color='#0000ff', fontweight='bold', zorder=7)

#date labels below the axes
trans = mtransforms.blended_transform_factory(ax.transData, ax.transAxes)
for st, d in zip(day_steps, dates):
    ax.text(st + 0.65, -0.009, d, rotation=90, ha='center', va='top', fontsize=7,
            transform=trans, clip_on=False)

def fx(px):
    return px / W

def fy(py):
    return 1 - py / H

fig.text(fx(26), fy(606), '(°C)', fontsize=7.5, ha='center', va='center')
fig.text(fx(722), fy(606), '(mm)', fontsize=7.5, ha='center', va='center')

#legend
fig.add_artist(Line2D([fx(35), fx(66)], [fy(647), fy(647)], color='#ff0000', lw=4))
fig.text(fx(74), fy(647), 'Moyenne des scénarios', fontsize=7.5, va='center')
fig.add_artist(Line2D([fx(225), fx(256)], [fy(636), fy(636)], color='#0000ff', lw=4))
fig.text(fx(264), fy(636), 'Run de contrôle', fontsize=7.5, va='center')
fig.add_artist(Line2D([fx(225), fx(256)], [fy(647), fy(647)], color='black', lw=4))
fig.text(fx(264), fy(647), 'Run GFS', fontsize=7.5, va='center')
fig.text(fx(180), fy(660), 'Altitude du modele : 2m', fontsize=7.5, va='center')
fig.text(fx(341), fy(652), '30 Perts.', fontsize=7.5, va='center')
for k, c in enumerate(pert_colors):
    fig.text(fx(405.5 + 11 * k), fy(644), '%02d' % (k + 1), fontsize=5.6,
             fontweight='bold', ha='center', va='center')
    fig.add_artist(Rectangle((fx(400 + 11 * k), fy(657)), 10.5 / W, 7 / H, color=c, lw=0))

#title box
fig.add_artist(Rectangle((fx(20), fy(699)), 420 / W, 31 / H, fill=False, lw=1.3, color='black'))
fig.text(fx(30), fy(678), 'Diagramme des ensembles GEFS sur 384h : 52.1N 5.2E',
         fontsize=8.2, fontweight='bold', va='center')
fig.text(fx(30), fy(691), 'Température 2m (°C) , précipitations (mm)', fontsize=7.2, va='center')
fig.text(fx(450), fy(672), 'Ensemble GEFS du 19/12/2021 - 12Z', fontsize=7.5, va='center')
fig.text(fx(450), fy(692), 'Copyright 2021 Meteociel.fr', fontsize=8.2,
         fontweight='bold', va='center')

fig.savefig('out.png', dpi=100)
